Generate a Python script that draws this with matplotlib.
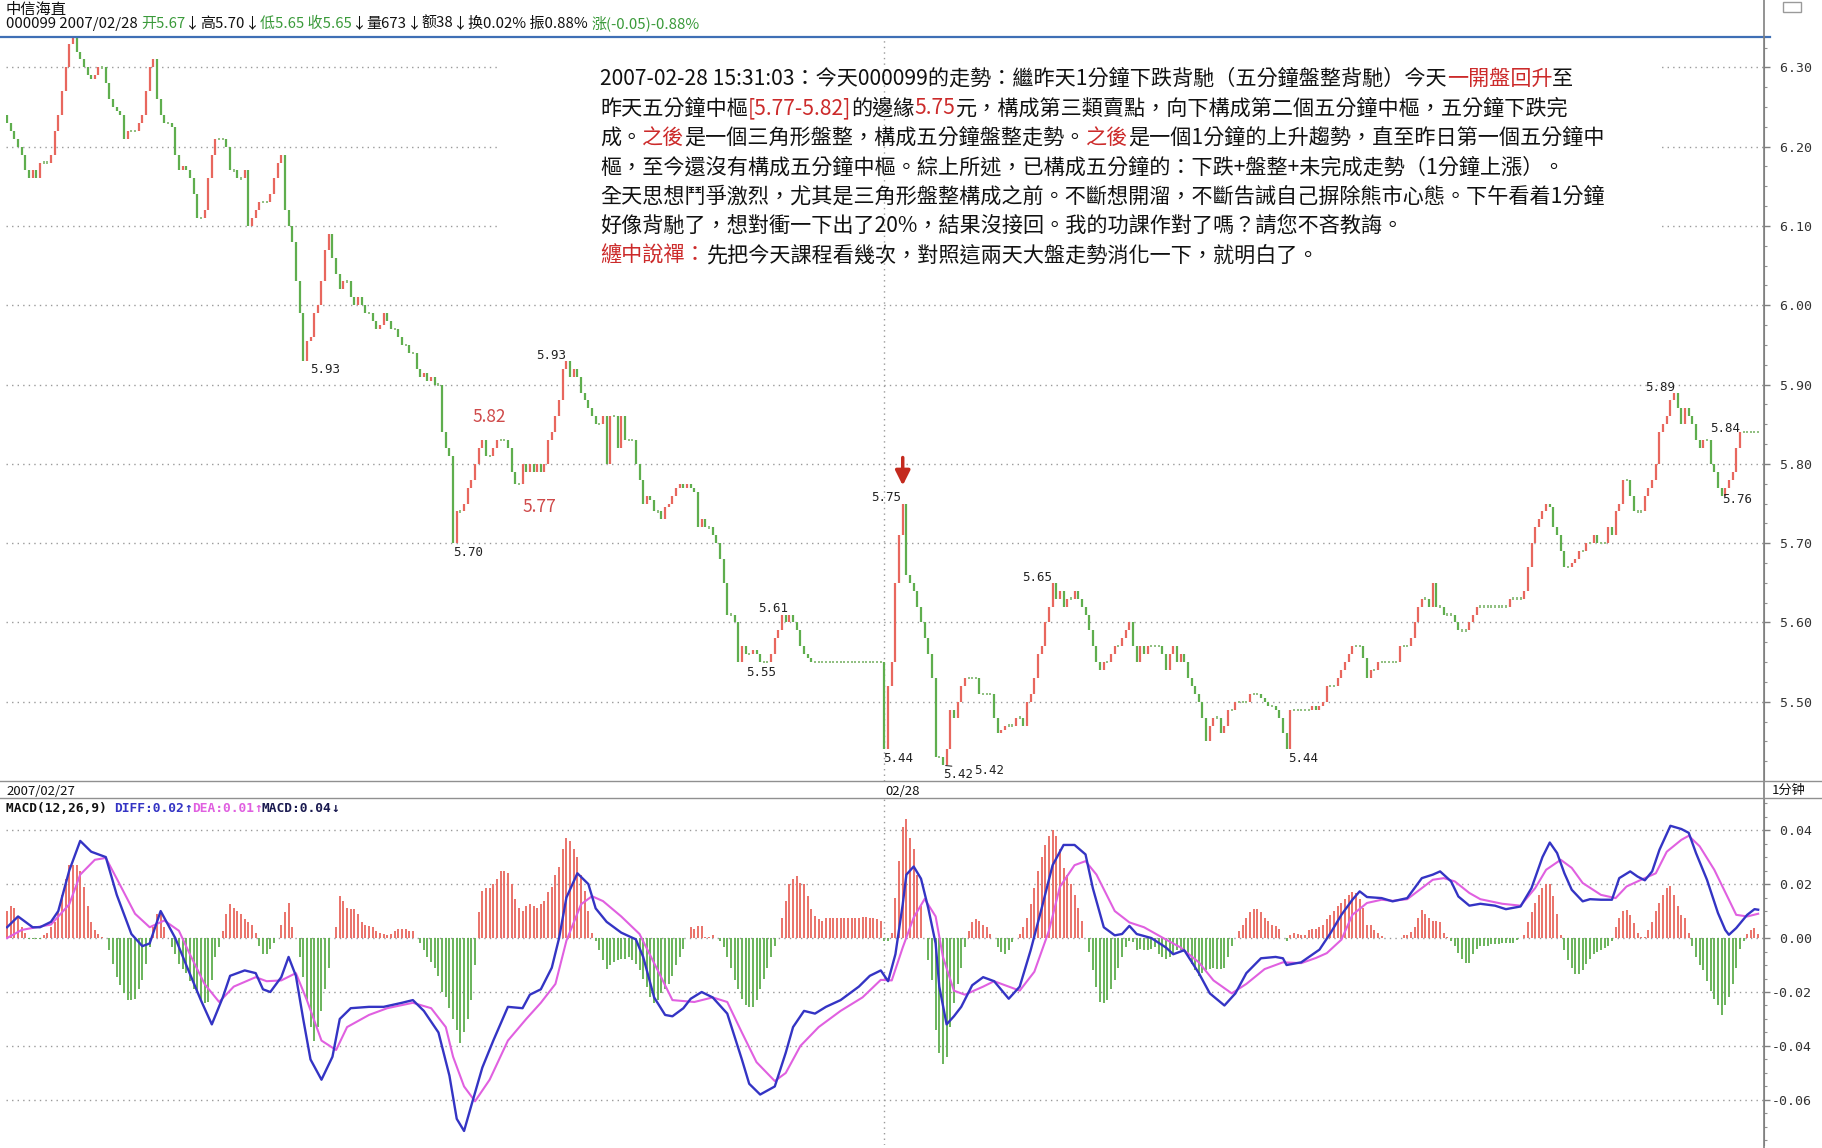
import matplotlib.pyplot as plt
from matplotlib.lines import Line2D
from matplotlib.patches import Rectangle
from matplotlib.ticker import MultipleLocator

plt.rcParams['font.family'] = ['Noto Sans CJK SC', 'DejaVu Sans']

# 1-minute closes, 2007/02/27 and 2007/02/28 (240 bars each)
day1_close = [
    6.23, 6.22, 6.21, 6.20, 6.19, 6.17, 6.16, 6.17, 6.16, 6.18,
    6.18, 6.18, 6.19, 6.22, 6.24, 6.27, 6.30, 6.33, 6.34, 6.32,
    6.31, 6.30, 6.29, 6.285, 6.29, 6.30, 6.30, 6.28, 6.26, 6.25,
    6.245, 6.24, 6.21, 6.22, 6.22, 6.22, 6.23, 6.24, 6.27, 6.30,
    6.31, 6.26, 6.24, 6.23, 6.23, 6.225, 6.19, 6.17, 6.175, 6.17,
    6.16, 6.14, 6.11, 6.11, 6.12, 6.16, 6.19, 6.21, 6.21, 6.21,
    6.20, 6.17, 6.17, 6.16, 6.16, 6.17, 6.10, 6.11, 6.12, 6.13,
    6.13, 6.13, 6.14, 6.16, 6.18, 6.19, 6.12, 6.10, 6.08, 6.03,
    5.99, 5.93, 5.955, 5.96, 5.99, 6.00, 6.03, 6.07, 6.09, 6.06,
    6.04, 6.02, 6.03, 6.03, 6.01, 6.00, 6.01, 6.00, 5.99, 5.99,
    5.98, 5.97, 5.975, 5.99, 5.98, 5.97, 5.97, 5.96, 5.95, 5.95,
    5.94, 5.94, 5.92, 5.91, 5.915, 5.905, 5.91, 5.90, 5.90, 5.84,
    5.82, 5.81, 5.70, 5.74, 5.74, 5.75, 5.77, 5.78, 5.80, 5.82,
    5.83, 5.81, 5.81, 5.82, 5.83, 5.83, 5.83, 5.82, 5.79, 5.775,
    5.775, 5.80, 5.79, 5.80, 5.79, 5.80, 5.79, 5.80, 5.83, 5.84,
    5.86, 5.88, 5.92, 5.93, 5.91, 5.92, 5.91, 5.89, 5.88, 5.87,
    5.86, 5.85, 5.85, 5.86, 5.80, 5.86, 5.86, 5.82, 5.86, 5.83,
    5.83, 5.83, 5.80, 5.78, 5.75, 5.76, 5.755, 5.74, 5.74, 5.73,
    5.745, 5.75, 5.76, 5.77, 5.775, 5.77, 5.775, 5.77, 5.765, 5.72,
    5.73, 5.72, 5.72, 5.71, 5.70, 5.68, 5.65, 5.61, 5.61, 5.60,
    5.55, 5.57, 5.56, 5.56, 5.565, 5.56, 5.55, 5.55, 5.55, 5.56,
    5.58, 5.59, 5.61, 5.60, 5.61, 5.60, 5.59, 5.57, 5.56, 5.555,
    5.55, 5.55, 5.55, 5.55, 5.55, 5.55, 5.55, 5.55, 5.55, 5.55,
    5.55, 5.55, 5.55, 5.55, 5.55, 5.55, 5.55, 5.55, 5.55, 5.55,
]
day2_close = [
    5.44, 5.52, 5.55, 5.65, 5.71, 5.75, 5.66, 5.65, 5.64, 5.62,
    5.60, 5.58, 5.56, 5.53, 5.43, 5.43, 5.42, 5.44, 5.49, 5.48,
    5.50, 5.52, 5.53, 5.53, 5.53, 5.53, 5.51, 5.51, 5.51, 5.51,
    5.48, 5.46, 5.465, 5.47, 5.47, 5.47, 5.48, 5.48, 5.47, 5.50,
    5.51, 5.53, 5.56, 5.57, 5.60, 5.62, 5.65, 5.63, 5.64, 5.62,
    5.63, 5.63, 5.64, 5.63, 5.62, 5.61, 5.59, 5.57, 5.55, 5.54,
    5.55, 5.55, 5.56, 5.57, 5.57, 5.58, 5.59, 5.60, 5.57, 5.55,
    5.57, 5.56, 5.57, 5.57, 5.57, 5.57, 5.56, 5.54, 5.56, 5.57,
    5.55, 5.56, 5.55, 5.53, 5.52, 5.51, 5.50, 5.48, 5.45, 5.47,
    5.48, 5.48, 5.46, 5.47, 5.49, 5.49, 5.50, 5.50, 5.50, 5.50,
    5.51, 5.51, 5.51, 5.505, 5.50, 5.495, 5.495, 5.49, 5.48, 5.46,
    5.44, 5.49, 5.49, 5.49, 5.49, 5.49, 5.49, 5.495, 5.49, 5.495,
    5.50, 5.52, 5.52, 5.52, 5.53, 5.54, 5.55, 5.56, 5.57, 5.57,
    5.57, 5.555, 5.53, 5.54, 5.54, 5.55, 5.55, 5.55, 5.55, 5.55,
    5.55, 5.57, 5.57, 5.57, 5.58, 5.60, 5.62, 5.63, 5.63, 5.62,
    5.65, 5.62, 5.62, 5.61, 5.61, 5.61, 5.60, 5.59, 5.59, 5.59,
    5.60, 5.61, 5.62, 5.62, 5.62, 5.62, 5.62, 5.62, 5.62, 5.62,
    5.62, 5.63, 5.63, 5.63, 5.63, 5.64, 5.67, 5.70, 5.72, 5.73,
    5.74, 5.75, 5.745, 5.72, 5.71, 5.69, 5.67, 5.67, 5.675, 5.68,
    5.69, 5.69, 5.70, 5.70, 5.71, 5.70, 5.70, 5.70, 5.72, 5.71,
    5.74, 5.75, 5.78, 5.78, 5.76, 5.74, 5.74, 5.74, 5.76, 5.77,
    5.78, 5.80, 5.84, 5.85, 5.86, 5.88, 5.89, 5.87, 5.85, 5.87,
    5.86, 5.85, 5.83, 5.82, 5.83, 5.83, 5.80, 5.79, 5.77, 5.76,
    5.77, 5.78, 5.79, 5.82, 5.84, 5.84, 5.84, 5.84, 5.84, 5.84,
]
first_open = 6.24

# MACD histogram, one bar per minute
macd_day1 = [
    0.010, 0.012, 0.011, 0.008, 0.004, 0.002, -0.0005, -0.0005, -0.0005, -0.0005,
    0.001, 0.002, 0.004, 0.006, 0.010, 0.016, 0.022, 0.027, 0.027, 0.027,
    0.025, 0.019, 0.012, 0.006, 0.003, 0.0015, 0.0005, 0.0, -0.0045, -0.0095,
    -0.0145, -0.0175, -0.0205, -0.023, -0.023, -0.0225, -0.019, -0.0155, -0.0095, -0.0035,
    0.004, 0.009, 0.0095, 0.004, 0.0, -0.0035, -0.006, -0.0095, -0.0115, -0.013,
    -0.016, -0.019, -0.0205, -0.023, -0.024, -0.0237, -0.0155, -0.007, -0.0035, 0.0027,
    0.009, 0.0125, 0.011, 0.010, 0.009, 0.007, 0.006, 0.005, 0.002, -0.003,
    -0.006, -0.006, -0.004, -0.002, 0.0, 0.005, 0.0095, 0.013, 0.004, 0.0,
    -0.007, -0.0145, -0.023, -0.033, -0.038, -0.033, -0.027, -0.019, -0.011, 0.0,
    0.004, 0.0155, 0.0137, 0.011, 0.0107, 0.0107, 0.009, 0.006, 0.005, 0.0045,
    0.004, 0.0027, 0.002, 0.0015, 0.001, 0.0015, 0.0027, 0.0033, 0.0033, 0.0033,
    0.0027, 0.0027, 0.0, -0.002, -0.0045, -0.007, -0.009, -0.011, -0.014, -0.020,
    -0.022, -0.026, -0.030, -0.034, -0.039, -0.035, -0.030, -0.023, -0.010, 0.0095,
    0.0175, 0.0185, 0.0185, 0.020, 0.022, 0.025, 0.025, 0.024, 0.020, 0.0145,
    0.011, 0.010, 0.012, 0.0125, 0.012, 0.011, 0.0125, 0.0137, 0.017, 0.019,
    0.0235, 0.0265, 0.033, 0.037, 0.036, 0.033, 0.030, 0.0235, 0.0175, 0.010,
    0.002, -0.001, -0.0045, -0.008, -0.0115, -0.010, -0.009, -0.008, -0.0077, -0.0077,
    -0.007, -0.008, -0.0095, -0.012, -0.015, -0.018, -0.022, -0.024, -0.023, -0.0205,
    -0.019, -0.017, -0.014, -0.010, -0.007, -0.004, 0.0, 0.004, 0.0033, 0.0045,
    0.0045, 0.0005, 0.0005, 0.001, 0.0, -0.001, -0.0035, -0.007, -0.011, -0.0155,
    -0.019, -0.0225, -0.025, -0.0255, -0.0255, -0.023, -0.019, -0.015, -0.011, -0.007,
    -0.003, 0.0, 0.0076, 0.0137, 0.020, 0.022, 0.023, 0.0205, 0.020, 0.0155,
    0.0107, 0.008, 0.007, 0.0064, 0.0075, 0.0075, 0.0075, 0.0075, 0.0075, 0.0075,
    0.0075, 0.0075, 0.0075, 0.0075, 0.0078, 0.0078, 0.0076, 0.0074, 0.007, 0.0064,
]
macd_day2 = [
    -0.001, -0.001, 0.002, 0.015, 0.0285, 0.041, 0.044, 0.037, 0.033, 0.0235,
    0.012, 0.0, -0.008, -0.0155, -0.034, -0.0427, -0.0465, -0.044, -0.033, -0.024,
    -0.017, -0.011, -0.0035, 0.0027, 0.006, 0.007, 0.0064, 0.005, 0.004, 0.0015,
    0.0, -0.0035, -0.005, -0.006, -0.0045, -0.0015, 0.0, 0.0015, 0.004, 0.0076,
    0.0125, 0.0185, 0.025, 0.030, 0.0345, 0.038, 0.040, 0.038, 0.033, 0.026,
    0.0235, 0.020, 0.016, 0.011, 0.0064, 0.0, -0.005, -0.012, -0.018, -0.0237,
    -0.024, -0.023, -0.019, -0.0155, -0.011, -0.007, -0.0035, -0.001, -0.0015, -0.0045,
    -0.004, -0.0045, -0.0045, -0.004, -0.0035, -0.006, -0.007, -0.0077, -0.007, -0.006,
    -0.0045, -0.0045, -0.005, -0.007, -0.0095, -0.012, -0.014, -0.013, -0.012, -0.0115,
    -0.011, -0.0115, -0.0115, -0.011, -0.007, -0.003, 0.0, 0.0027, 0.005, 0.0076,
    0.0095, 0.0107, 0.0107, 0.0095, 0.0076, 0.0064, 0.005, 0.0045, 0.0033, 0.0,
    -0.001, 0.001, 0.0017, 0.0015, 0.001, 0.001, 0.003, 0.0033, 0.0035, 0.004,
    0.005, 0.007, 0.0087, 0.010, 0.0117, 0.013, 0.0145, 0.016, 0.017, 0.0168,
    0.0145, 0.011, 0.005, 0.005, 0.003, 0.002, 0.0006, 0.0002, 0.0002, 0.0002,
    0.0002, 0.0002, 0.001, 0.001, 0.0022, 0.004, 0.0075, 0.0105, 0.0088, 0.0074,
    0.0065, 0.0065, 0.006, 0.002, 0.0003, -0.001, -0.003, -0.0055, -0.0078, -0.0092,
    -0.0093, -0.006, -0.004, -0.003, -0.003, -0.003, -0.0022, -0.0022, -0.0022, -0.0018,
    -0.0018, -0.0018, -0.0018, -0.0006, 0.0002, 0.001, 0.006, 0.0095, 0.013, 0.016,
    0.0185, 0.020, 0.0202, 0.0155, 0.009, 0.001, -0.0045, -0.008, -0.011, -0.0133,
    -0.0133, -0.012, -0.0095, -0.0076, -0.006, -0.005, -0.0043, -0.0036, -0.0028, -0.0012,
    0.004, 0.0075, 0.010, 0.0105, 0.0086, 0.0055, 0.002, 0.0005, 0.0003, 0.003,
    0.006, 0.010, 0.013, 0.016, 0.0185, 0.0194, 0.016, 0.012, 0.0085, 0.0074,
    0.002, -0.003, -0.007, -0.010, -0.012, -0.016, -0.0195, -0.0225, -0.025, -0.0284,
    -0.025, -0.022, -0.017, -0.011, -0.004, -0.001, 0.0015, 0.003, 0.0037, 0.0015,
]

# DIFF / DEA lines read at sample minutes
diff_minute = [0, 3, 5, 7, 9, 12, 14, 17, 20, 23, 27, 30, 34, 37, 39, 42, 46, 49, 53, 56,
               59, 61, 65, 68, 70, 72, 75, 77, 79, 81, 83, 86, 89, 91, 94, 99, 103, 108, 111, 114,
               118, 121, 123, 125, 127, 130, 133, 137, 141, 143, 146, 149, 151, 153, 156, 159, 161, 164, 168, 172,
               174, 177, 180, 182, 185, 187, 190, 193, 197, 201, 203, 206, 210, 213, 215, 218, 221, 224, 228, 233,
               236, 239, 241, 243, 245, 246, 248, 250, 252, 254, 255, 257, 259, 261, 264, 267, 270, 274, 277, 280,
               283, 286, 289, 292, 295, 297, 300, 303, 305, 307, 309, 313, 317, 319, 322, 326, 329, 333, 336, 339,
               343, 347, 349,
               350, 354, 357, 359, 362, 365, 368, 370, 372, 376, 379, 383, 387, 390, 392, 395, 397, 400, 403, 407,
               410, 414, 417, 420, 422, 424, 426, 428, 431, 433, 436, 439, 441, 444, 446, 448, 450, 452, 455, 458,
               460, 462, 465, 468, 470, 471, 473, 476, 478, 479]
diff_value = [0.004, 0.008, 0.006, 0.004, 0.004, 0.006, 0.010, 0.025, 0.036, 0.032, 0.030, 0.016, 0.0015, -0.003, -0.002, 0.010, 0.0, -0.010, -0.023, -0.032,
              -0.022, -0.014, -0.012, -0.013, -0.019, -0.020, -0.0145, -0.007, -0.014, -0.030, -0.045, -0.0525, -0.044, -0.030, -0.026, -0.0255, -0.0255, -0.024, -0.023, -0.027,
              -0.035, -0.051, -0.067, -0.0715, -0.062, -0.048, -0.038, -0.0255, -0.026, -0.021, -0.019, -0.011, 0.0, 0.015, 0.024, 0.020, 0.011, 0.006, 0.002, -0.0005,
              -0.007, -0.022, -0.0285, -0.029, -0.026, -0.0225, -0.020, -0.022, -0.028, -0.045, -0.054, -0.058, -0.055, -0.0425, -0.033, -0.027, -0.028, -0.0255, -0.023, -0.018,
              -0.014, -0.012, -0.016, -0.006, 0.0125, 0.0235, 0.0265, 0.022, 0.011, -0.002, -0.018, -0.032, -0.029, -0.0255, -0.0175, -0.0145, -0.016, -0.0225, -0.018, -0.0045,
              0.011, 0.027, 0.0345, 0.0345, 0.031, 0.0185, 0.004, 0.001, 0.0015, 0.0045, 0.0015, 0.0, -0.0035, -0.006, -0.0045, -0.013, -0.0205, -0.025, -0.0205, -0.013,
              -0.0075, -0.007, -0.0075,
              -0.010, -0.009, -0.0062, -0.0043, 0.0018, 0.0086, 0.0142, 0.0173, 0.0152, 0.0148, 0.0136, 0.0148, 0.0222, 0.0235, 0.0247, 0.021, 0.0154, 0.012, 0.0127, 0.012,
              0.0107, 0.0117, 0.0185, 0.030, 0.0354, 0.0315, 0.024, 0.0179, 0.0136, 0.0144, 0.0142, 0.0142, 0.0222, 0.0247, 0.0228, 0.0214, 0.0247, 0.0327, 0.0416, 0.0404,
              0.039, 0.0315, 0.0216, 0.0093, 0.003, 0.0012, 0.0037, 0.0086, 0.0107, 0.0105]
dea_minute = [0, 4, 8, 12, 17, 20, 24, 27, 30, 35, 39, 43, 47, 50, 54, 58, 62, 68, 71, 75,
              79, 82, 86, 90, 93, 99, 104, 111, 116, 120, 122, 125, 128, 132, 137, 142, 146, 150, 153, 157,
              160, 163, 168, 173, 178, 182, 188, 193, 197, 201, 205, 210, 213, 217, 222, 228, 234, 239, 242, 245,
              248, 251, 254, 256, 259, 262, 267, 270, 274, 277, 281, 285, 288, 292, 295, 298, 303, 307, 311, 316,
              321, 326, 330, 335, 339, 344, 349,
              354, 358, 361, 365, 368, 372, 376, 379, 383, 387, 390, 393, 396, 400, 403, 409, 414, 418, 421, 425,
              428, 431, 436, 440, 443, 447, 451, 454, 458, 460, 463, 467, 471, 473, 476, 479]
dea_value = [0.0, 0.003, 0.004, 0.005, 0.0125, 0.0235, 0.029, 0.0297, 0.022, 0.009, 0.004, 0.0065, 0.0027, -0.006, -0.017, -0.0237, -0.018, -0.0145, -0.016, -0.0157,
             -0.013, -0.023, -0.038, -0.0415, -0.033, -0.0285, -0.026, -0.024, -0.026, -0.033, -0.044, -0.055, -0.0605, -0.0525, -0.038, -0.030, -0.024, -0.017, -0.001, 0.0125,
             0.0155, 0.0137, 0.008, 0.0015, -0.012, -0.023, -0.0237, -0.022, -0.0237, -0.035, -0.046, -0.053, -0.050, -0.040, -0.033, -0.027, -0.022, -0.0155, -0.0157, -0.0035,
             0.0076, 0.0145, 0.008, -0.007, -0.0195, -0.021, -0.018, -0.016, -0.018, -0.0195, -0.0125, 0.0027, 0.019, 0.027, 0.0285, 0.0235, 0.010, 0.0058, 0.004, 0.0002,
             -0.0035, -0.009, -0.0157, -0.0205, -0.017, -0.0115, -0.009,
             -0.0093, -0.0074, -0.0056, -0.0006, 0.0086, 0.013, 0.0142, 0.0138, 0.0144, 0.0185, 0.0216, 0.0222, 0.021, 0.0167, 0.0144, 0.0127, 0.012, 0.0185, 0.0253, 0.029,
             0.026, 0.0204, 0.016, 0.0148, 0.0191, 0.0216, 0.024, 0.032, 0.0364, 0.0379, 0.034, 0.0253, 0.0142, 0.0086, 0.008, 0.009]

price_ticks = [5.50, 5.60, 5.70, 5.80, 5.90, 6.00, 6.10, 6.20, 6.30]
macd_ticks = [-0.06, -0.04, -0.02, 0.00, 0.02, 0.04]

# (minute, dx px, dy px downward) for the extreme-price labels
peak_labels = [(18, -17, 10), (81, 22, 9), (122, 15, 9), (153, -15, -5), (212, -9, -6),
               (200, 23, 10), (240, 14, 9), (245, -17, -6), (256, 15, 9), (286, -15, -5),
               (350, 17, 9), (456, -14, -5), (469, 16, 4), (475, -18, -4)]

closes = day1_close + day2_close
macd_bar = macd_day1 + macd_day2
minutes = list(range(len(closes)))

UP, DOWN = '#e8675e', '#5fae4e'
W, H = 1822, 1148
fig = plt.figure(figsize=(W / 100, H / 100), dpi=100)


def fx(px):
    return px / W


def fy(py):
    return 1 - py / H


ax = fig.add_axes([fx(6), fy(781), fx(1764) - fx(6), fy(37) - fy(781)])
axm = fig.add_axes([fx(6), fy(1145), fx(1764) - fx(6), fy(798) - fy(1145)])
ax.set_facecolor('none')
axm.set_facecolor('none')

# price bars: each minute drawn from previous close to its close
prev = [first_open] + closes[:-1]
up_x, up_lo, up_hi, dn_x, dn_lo, dn_hi, fl_x, fl_y = [], [], [], [], [], [], [], []
for m, c, p in zip(minutes, closes, prev):
    if c > p:
        up_x.append(m); up_lo.append(p); up_hi.append(c)
    elif c < p:
        dn_x.append(m); dn_lo.append(c); dn_hi.append(p)
    else:
        fl_x.append(m); fl_y.append(c)
ax.vlines(up_x, up_lo, up_hi, colors=UP, lw=1.6, zorder=3)
ax.vlines(dn_x, dn_lo, dn_hi, colors=DOWN, lw=1.6, zorder=3)
ax.vlines(fl_x, [v - 0.0015 for v in fl_y], [v + 0.0015 for v in fl_y], colors='#8fbf80', lw=1.4, zorder=3)

ax.set_xlim(-0.3, 480.6)
ax.set_ylim(5.4001, 6.3383)
ax.set_axisbelow(True)
ax.set_yticks(price_ticks)
ax.set_yticklabels([f'{t:>5.2f}' for t in price_ticks])
ax.yaxis.set_minor_locator(MultipleLocator(0.025))
ax.grid(axis='y', linestyle=(0, (1, 3)), color='#9a9a9a', lw=1)
ax.axvline(239.8, linestyle=(0, (1, 3)), color='#9a9a9a', lw=1)
ax.set_xticks([])

# white block behind the commentary text hides the grid there
ax.add_patch(Rectangle((134, 6.03), 318, 0.33, facecolor='white', edgecolor='none', zorder=1))

for m, dx, dy in peak_labels:
    ax.annotate(f'{closes[m]:.2f}', xy=(m, closes[m]), xytext=(dx, -dy), textcoords='offset pixels',
                ha='center', va='center', fontsize=9, family='DejaVu Sans Mono', color='#222222', zorder=4)
# leader-line labels
ax.annotate(f'{closes[18]:.2f}', xy=(18, closes[18]), xytext=(40, 1), textcoords='offset pixels',
            ha='center', va='center', fontsize=9, family='DejaVu Sans Mono', color='#222222',
            arrowprops=dict(arrowstyle='-', color='#333333', lw=0.8, shrinkA=14, shrinkB=2))
ax.annotate(f'{closes[256]:.2f}', xy=(256, closes[256]), xytext=(46, -5), textcoords='offset pixels',
            ha='center', va='center', fontsize=9, family='DejaVu Sans Mono', color='#222222',
            arrowprops=dict(arrowstyle='-', color='#333333', lw=0.8, shrinkA=14, shrinkB=2))

# 5-minute pivot bounds in red
ax.annotate('5.82', xy=(132, 5.82), xytext=(0, 31), textcoords='offset pixels', ha='center', va='center',
            fontsize=12.5, color='#cf4a4a')
ax.annotate('5.77', xy=(145, 5.77), xytext=(2, -19), textcoords='offset pixels', ha='center', va='center',
            fontsize=12.5, color='#cf4a4a')
# third-type sell point arrow
ax.annotate('', xy=(245, closes[245]), xytext=(0, 46), textcoords='offset pixels',
            arrowprops=dict(arrowstyle='-|>', color='#c42a1e', lw=2.5, mutation_scale=22, shrinkA=0, shrinkB=13))

# MACD panel
mpos_x = [m for m, v in zip(minutes, macd_bar) if v >= 0]
mpos_v = [v for v in macd_bar if v >= 0]
mneg_x = [m for m, v in zip(minutes, macd_bar) if v < 0]
mneg_v = [v for v in macd_bar if v < 0]
axm.vlines(mpos_x, 0, mpos_v, colors=UP, lw=1.3, zorder=2)
axm.vlines(mneg_x, mneg_v, 0, colors=DOWN, lw=1.3, zorder=2)
axm.plot(dea_minute, dea_value, color='#e060e0', lw=1.5, zorder=3)
axm.plot(diff_minute, diff_value, color='#3434c4', lw=1.7, zorder=4)
axm.set_xlim(-0.3, 480.6)
axm.set_ylim(-0.0767, 0.0519)
axm.set_axisbelow(True)
axm.set_yticks(macd_ticks)
axm.set_yticklabels([f'{t:>5.2f}' for t in macd_ticks])
axm.yaxis.set_minor_locator(MultipleLocator(0.005))
axm.grid(axis='y', linestyle=(0, (1, 3)), color='#9a9a9a', lw=1)
axm.axvline(239.8, linestyle=(0, (1, 3)), color='#9a9a9a', lw=1)
axm.set_xticks([])

for a in (ax, axm):
    for s in ('top', 'left', 'bottom'):
        a.spines[s].set_visible(False)
    a.spines['right'].set_color('#808080')
    a.yaxis.tick_right()
    a.tick_params(axis='y', which='major', length=4, width=1, color='#808080', pad=1.5,
                  labelsize=9.5, labelcolor='#333333', labelfontfamily='DejaVu Sans Mono')
    a.tick_params(axis='y', which='minor', length=2.5, width=0.8, color='#909090')

# frame lines of the trading screen
fig.add_artist(Line2D([fx(0), fx(1770)], [fy(37), fy(37)], color='#3f6fb5', lw=1.6))
fig.add_artist(Line2D([fx(1764), fx(1764)], [0, 1], color='#808080', lw=1.2))
fig.add_artist(Line2D([0, 1], [fy(781), fy(781)], color='#909090', lw=1))
fig.add_artist(Line2D([0, 1], [fy(798), fy(798)], color='#909090', lw=1))
fig.add_artist(Rectangle((fx(1783), fy(12)), fx(18), 10 / H, fill=False, edgecolor='#9a9a9a', lw=1))


def chain_text(x_px, y_px, parts, size, family, weight='normal'):
    t = ax.annotate(parts[0][0], xy=(x_px, H - y_px), xycoords='figure pixels', color=parts[0][1],
                    fontsize=size, family=family, fontweight=weight, ha='left', va='baseline',
                    annotation_clip=False)
    for s, c in parts[1:]:
        t = ax.annotate(s, xy=(1, 0), xycoords=t, color=c, fontsize=size, family=family, fontweight=weight,
                        ha='left', va='bottom', annotation_clip=False)
    return t


K, R, G = '#111111', '#cc2a2a', '#3a9a3a'
cjk_sc = ['Noto Sans CJK SC', 'DejaVu Sans']
cjk_tc = ['Noto Sans CJK TC', 'DejaVu Sans']
mono = ['DejaVu Sans Mono', 'DejaVu Sans']

chain_text(6, 14, [('中信海直', K)], 11, cjk_sc)
chain_text(6, 28, [('000099 2007/02/28 ', K), ('开5.67', G), ('↓', K), ('高5.70', K), ('↓', K),
                   ('低5.65 收5.65', G), ('↓', K), ('量673', K), ('↓', K), ('额38', K), ('↓', K),
                   ('换0.02% 振0.88% ', K), ('涨(-0.05)-0.88%', G)], 10.8, cjk_sc)
chain_text(6, 795, [('2007/02/27', K)], 9.5, cjk_sc)
chain_text(885, 795, [('02/28', K)], 9.5, cjk_sc)
fig.text(fx(1789), fy(790), '1分钟', ha='center', va='center', fontsize=9.5, family=cjk_sc, color=K)
chain_text(6, 812, [('MACD(12,26,9) ', K), ('DIFF:0.02', '#3434c4'), ('↑', '#3434c4'),
                    ('DEA:0.01', '#e060e0'), ('↑', '#e060e0'), ('MACD:0.04', '#1a1a50'), ('↓', '#1a1a50')],
           9.3, mono, weight='bold')

notes = [
    [('2007-02-28 15:31:03：今天000099的走勢：繼昨天1分鐘下跌背馳（五分鐘盤整背馳）今天', K), ('一開盤回升', R), ('至', K)],
    [('昨天五分鐘中樞', K), ('[5.77-5.82]', R), ('的邊緣', K), ('5.75', R),
     ('元，構成第三類賣點，向下構成第二個五分鐘中樞，五分鐘下跌完', K)],
    [('成。', K), ('之後', R), ('是一個三角形盤整，構成五分鐘盤整走勢。', K), ('之後', R),
     ('是一個1分鐘的上升趨勢，直至昨日第一個五分鐘中', K)],
    [('樞，至今還沒有構成五分鐘中樞。綜上所述，已構成五分鐘的：下跌+盤整+未完成走勢（1分鐘上漲）。', K)],
    [('全天思想鬥爭激烈，尤其是三角形盤整構成之前。不斷想開溜，不斷告誡自己摒除熊市心態。下午看着1分鐘', K)],
    [('好像背馳了，想對衝一下出了20%，結果沒接回。我的功課作對了嗎？請您不吝教誨。', K)],
    [('纏中說禪：', R), ('先把今天課程看幾次，對照這兩天大盤走勢消化一下，就明白了。', K)],
]
for i, parts in enumerate(notes):
    chain_text(600, 85 + 29.4 * i, parts, 15.2, cjk_tc)

fig.savefig('out.png', dpi=100, facecolor='white')
